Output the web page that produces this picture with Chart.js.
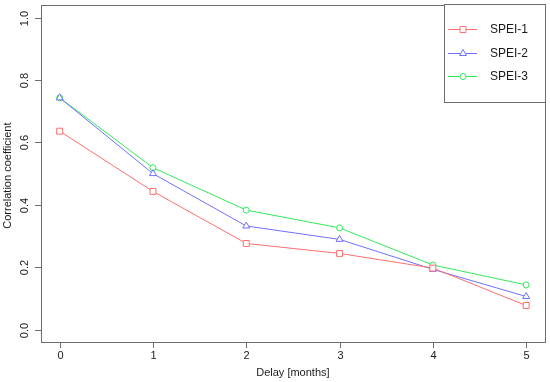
<!DOCTYPE html>
<html>
<head>
<meta charset="utf-8">
<script src="https://cdn.jsdelivr.net/npm/chart.js@4.4.0/dist/chart.umd.min.js"></script>
<style>
html,body{margin:0;padding:0;background:#fff;}
#wrap{width:550px;height:382px;position:relative;}
</style>
</head>
<body>
<div id="wrap"><canvas id="c" width="550" height="382"></canvas></div>
<script>
const delays = [0, 1, 2, 3, 4, 5];
const spei1 = [0.636, 0.443, 0.276, 0.244, 0.197, 0.077];
const spei2 = [0.743, 0.500, 0.332, 0.289, 0.193, 0.106];
const spei3 = [0.743, 0.519, 0.383, 0.326, 0.207, 0.143];
const yTicks = [0.0, 0.2, 0.4, 0.6, 0.8, 1.0];
const xTicks = [0, 1, 2, 3, 4, 5];
const seriesNames = ["SPEI-1", "SPEI-2", "SPEI-3"];
const seriesColors = ["#ff7070", "#7070ff", "#30ea5a"];
const seriesShapes = ["rect", "triangle", "circle"];
const seriesRadius = [4.2, 4.0, 3.0];

const FONT = "Liberation Sans, Arial, Helvetica, sans-serif";
const AXIS_COL = "#6e6e6e";

function mk(i, vals) {
  return {
    label: seriesNames[i],
    data: delays.map((d, k) => ({x: d, y: vals[k]})),
    borderColor: seriesColors[i],
    backgroundColor: "#ffffff",
    pointBorderColor: seriesColors[i],
    pointBackgroundColor: "rgba(255,255,255,1)",
    pointStyle: seriesShapes[i],
    pointRadius: seriesRadius[i],
    pointBorderWidth: 1,
    borderWidth: 1,
    tension: 0,
    fill: false
  };
}

const rPlugin = {
  id: "rstyle",
  afterDraw(chart) {
    const ctx = chart.ctx;
    const a = chart.chartArea;
    const xs = chart.scales.x, ys = chart.scales.y;
    ctx.save();
    ctx.strokeStyle = AXIS_COL;
    ctx.lineWidth = 1;
    ctx.strokeRect(Math.round(a.left) + 0.5, Math.round(a.top) + 0.5,
                   Math.round(a.right - a.left), Math.round(a.bottom - a.top));
    ctx.fillStyle = "#1a1a1a";
    ctx.font = "11px " + FONT;
    ctx.textAlign = "center";
    ctx.textBaseline = "middle";
    xTicks.forEach(v => {
      const px = Math.round(xs.getPixelForValue(v)) + 0.5;
      ctx.beginPath();
      ctx.moveTo(px, a.bottom);
      ctx.lineTo(px, a.bottom + 6);
      ctx.stroke();
      ctx.fillText(String(v), px, 356);
    });
    yTicks.forEach(v => {
      const py = Math.round(ys.getPixelForValue(v)) + 0.5;
      ctx.beginPath();
      ctx.moveTo(a.left, py);
      ctx.lineTo(a.left - 6, py);
      ctx.stroke();
      ctx.save();
      ctx.translate(25, py);
      ctx.rotate(-Math.PI / 2);
      ctx.fillText(v.toFixed(1), 0, 0);
      ctx.restore();
    });
    ctx.fillText("Delay [months]", (a.left + a.right) / 2, 373);
    ctx.save();
    ctx.translate(8, (a.top + a.bottom) / 2 + 2);
    ctx.rotate(-Math.PI / 2);
    ctx.fillText("Correlation coefficient", 0, 0);
    ctx.restore();
    const lx = 444, ly = 4, lw = 101, lh = 98;
    ctx.fillStyle = "#fff";
    ctx.fillRect(lx, ly, lw, lh);
    ctx.strokeStyle = AXIS_COL;
    ctx.strokeRect(lx + 0.5, ly + 0.5, lw, lh);
    const rows = [29, 53, 76];
    ctx.font = "12px " + FONT;
    ctx.textAlign = "left";
    seriesNames.forEach((name, i) => {
      const y = rows[i];
      ctx.strokeStyle = seriesColors[i];
      ctx.lineWidth = 1;
      ctx.beginPath();
      ctx.moveTo(448, y + 0.5);
      ctx.lineTo(477, y + 0.5);
      ctx.stroke();
      ctx.fillStyle = "#fff";
      Chart.helpers.drawPoint(ctx, {pointStyle: seriesShapes[i], radius: seriesRadius[i], rotation: 0, borderWidth: 1}, 463, y + 0.5);
      ctx.fillStyle = "#1a1a1a";
      ctx.fillText(name, 490, y + 1);
    });
    ctx.restore();
  }
};

new Chart(document.getElementById("c"), {
  type: "line",
  data: { datasets: [mk(0, spei1), mk(1, spei2), mk(2, spei3)] },
  options: {
    responsive: false,
    animation: false,
    layout: { padding: { left: 0, right: 5, top: 4, bottom: 0 } },
    plugins: { legend: { display: false }, tooltip: { enabled: false } },
    scales: {
      x: {
        type: "linear",
        min: -0.2, max: 5.2,
        ticks: { display: false },
        grid: { display: false },
        border: { display: false },
        afterFit(s) { s.height = 40; }
      },
      y: {
        type: "linear",
        min: -0.04, max: 1.04,
        afterBuildTicks(s) { s.ticks = yTicks.map(v => ({value: v})); },
        ticks: { display: false },
        grid: { display: false },
        border: { display: false },
        afterFit(s) { s.width = 41; }
      }
    }
  },
  plugins: [rPlugin]
});
</script>
</body>
</html>
